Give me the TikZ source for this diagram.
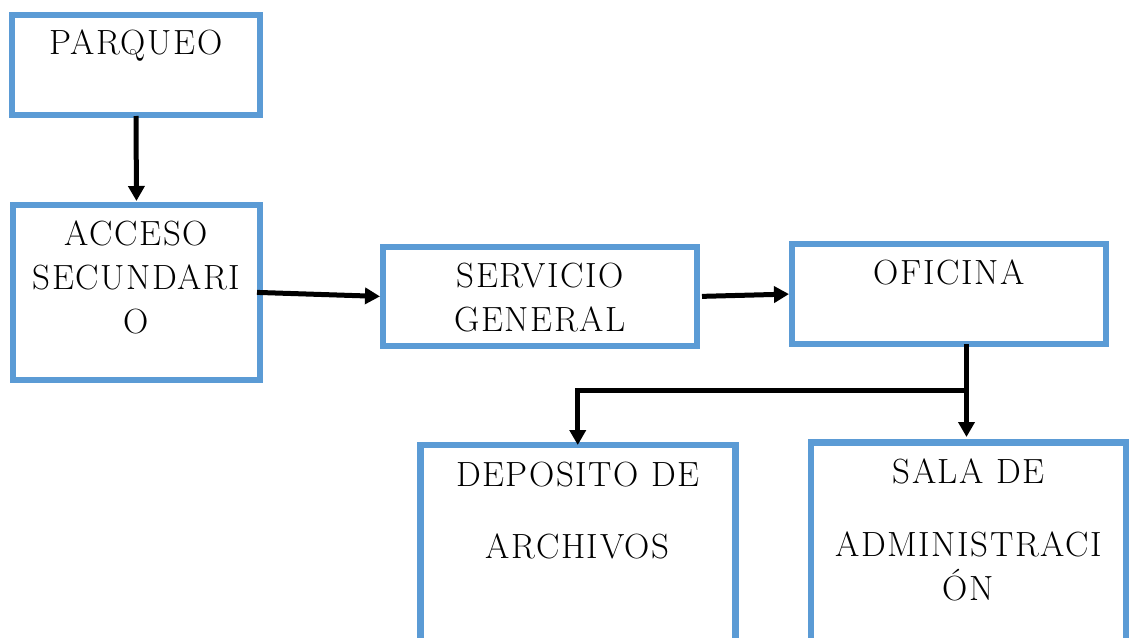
\documentclass[tikz,border=0pt]{standalone}
\usepackage{fontspec}
\usepackage{tikz}
\usetikzlibrary{arrows.meta, positioning, calc}

\newfontfamily\areafont{Latin Modern Roman}[LetterSpace=4.5]
\definecolor{boxblue}{HTML}{5B9BD5}

\begin{document}
\begin{tikzpicture}[
    x=1pt, y=-1pt,
    >={Triangle[length=15pt, width=16pt]},
    area/.style={rectangle, draw=boxblue, line width=6.5pt, fill=white, outer sep=0pt, inner sep=0pt},
    tag/.style={anchor=north, inner sep=0pt, align=center, font=\areafont\fontsize{35}{44}\selectfont},
    arrow/.style={->, line width=5pt}
]
\clip (0,0) rectangle (1129,637);

% zonas
\node[area, minimum width=248pt, minimum height=100pt] (parqueo) at (136,65) {};
\node[area, minimum width=247pt, minimum height=175pt] (acceso) at (136.5,292.5) {};
\node[area, minimum width=314pt, minimum height=99pt] (servicio) at (540,296.5) {};
\node[area, minimum width=314pt, minimum height=100pt] (oficina) at (949,294) {};
\node[area, minimum width=315pt, minimum height=260pt] (deposito) at (577.75,575) {};
\node[area, minimum width=315pt, minimum height=260pt] (sala) at (968.5,572.5) {};

% nombres de las zonas
\node[tag, below=15pt of parqueo.north] (parqueo_txt) {PARQUEO};
\node[tag, below=16pt of acceso.north] (acceso_txt) {ACCESO\\SECUNDARI\\O};
\node[tag, below=16pt of servicio.north] (servicio_txt) {SERVICIO\\GENERAL};
\node[tag, below=16pt of oficina.north] (oficina_txt) {OFICINA};
\node[tag, below=17pt of deposito.north] (deposito_txt) {DEPOSITO DE\\[28pt]ARCHIVOS};
\node[tag, below=16pt of sala.north] (sala_txt) {SALA DE\\[29pt]ADMINISTRACI\\ÓN};

% recorrido
\draw[arrow, shorten <=1pt, shorten >=4pt] (parqueo.south) -- (acceso.north);
\draw[arrow, shorten <=-3pt, shorten >=3pt] (acceso.east) -- (servicio.west);
\draw[arrow, shorten <=5pt, shorten >=3pt] (servicio.east) -- (oficina.west);

\coordinate (fork) at (966.5,390.5);
\draw[arrow, shorten >=5.5pt] (oficina.south -| fork) -- (fork |- sala.north);
\draw[arrow] (fork) -| (deposito.north);

\end{tikzpicture}
\end{document}
